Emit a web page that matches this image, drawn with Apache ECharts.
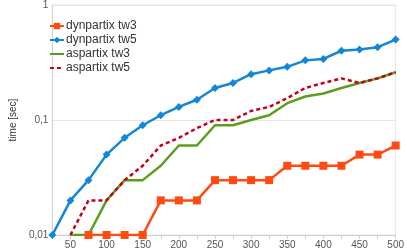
<!DOCTYPE html>
<html><head><meta charset="utf-8">
<script src="https://cdn.jsdelivr.net/npm/echarts@6/dist/echarts.min.js"></script>
<style>html,body{margin:0;padding:0;background:#fff}#c{width:407px;height:252px}</style>
</head><body><div id="c"></div>
<script>
var categories = ['25','50','75','100','125','150','175','200','225','250','275','300','325','350','375','400','425','450','475','500'];
var dynTw3 = [null,null,0.01,0.01,0.01,0.01,0.02,0.02,0.02,0.03,0.03,0.03,0.03,0.04,0.04,0.04,0.04,0.05,0.05,0.06];
var dynTw5 = [0.01,0.02,0.03,0.05,0.07,0.09,0.11,0.13,0.15,0.19,0.21,0.25,0.27,0.29,0.33,0.34,0.40,0.41,0.43,0.50];
var aspTw3 = [null,0.01,0.01,0.02,0.03,0.03,0.04,0.06,0.06,0.09,0.09,0.10,0.11,0.14,0.16,0.17,0.19,0.21,0.23,0.26];
var aspTw5 = [null,0.01,0.02,0.02,0.03,0.04,0.06,0.07,0.085,0.10,0.10,0.12,0.13,0.155,0.19,0.21,0.23,0.21,0.23,0.26];
var yTickLabels = {'0.01':'0,01','0.1':'0,1','1':'1'};

var font = 'Liberation Sans, Arial, sans-serif';
var chart = echarts.init(document.getElementById('c'), null, {renderer:'canvas'});
chart.setOption({
  animation:false,
  grid:{left:35,right:9,top:3,bottom:17,show:true,borderColor:'#e4e4e4',borderWidth:1},
  legend:{
    left:44, top:15, orient:'vertical', itemWidth:14, itemHeight:8, itemGap:2,
    textStyle:{fontFamily:font,fontSize:12,color:'#333',padding:[0,0,0,-3]},
    data:[
      {name:'dynpartix tw3'},
      {name:'dynpartix tw5'},
      {name:'aspartix tw3',itemStyle:{opacity:0}},
      {name:'aspartix tw5',itemStyle:{opacity:0}}
    ]
  },
  xAxis:{
    type:'category', data:categories, boundaryGap:false,
    axisLine:{lineStyle:{color:'#d0d0d0'}},
    axisTick:{interval:0,length:4,lineStyle:{color:'#d0d0d0'}},
    axisLabel:{interval:function(i,v){return (+v)%50===0;},color:'#555',fontFamily:font,fontSize:10,margin:5},
    splitLine:{show:false}
  },
  yAxis:{
    type:'log', logBase:10, min:0.01, max:1,
    name:'time [sec]', nameLocation:'middle', nameGap:28, nameRotate:90,
    nameTextStyle:{fontFamily:font,fontSize:10,color:'#333'},
    axisLine:{show:true,lineStyle:{color:'#d0d0d0'}},
    axisTick:{show:false},
    axisLabel:{color:'#555',fontFamily:font,fontSize:10,margin:4,
      formatter:function(v){var k=String(+v.toPrecision(3));return yTickLabels[k]||k.replace('.',',');}},
    splitLine:{lineStyle:{color:'#e4e4e4'}}
  },
  series:[
    {name:'dynpartix tw3',type:'line',data:dynTw3,symbol:'rect',symbolSize:8,showAllSymbol:true,
     itemStyle:{color:'#ff4a12'},lineStyle:{width:2.5,color:'#ff4a12'},z:4},
    {name:'dynpartix tw5',type:'line',data:dynTw5,symbol:'diamond',symbolSize:8,showAllSymbol:true,
     itemStyle:{color:'#1387d6'},lineStyle:{width:2.5,color:'#1387d6'},z:5},
    {name:'aspartix tw3',type:'line',data:aspTw3,symbol:'none',
     itemStyle:{color:'#5c9e1c'},lineStyle:{width:2.5,color:'#5c9e1c'},z:2},
    {name:'aspartix tw5',type:'line',data:aspTw5,symbol:'none',
     itemStyle:{color:'#c4001c'},lineStyle:{width:2.5,color:'#c4001c',type:[4,3]},z:3}
  ]
});
</script></body></html>
